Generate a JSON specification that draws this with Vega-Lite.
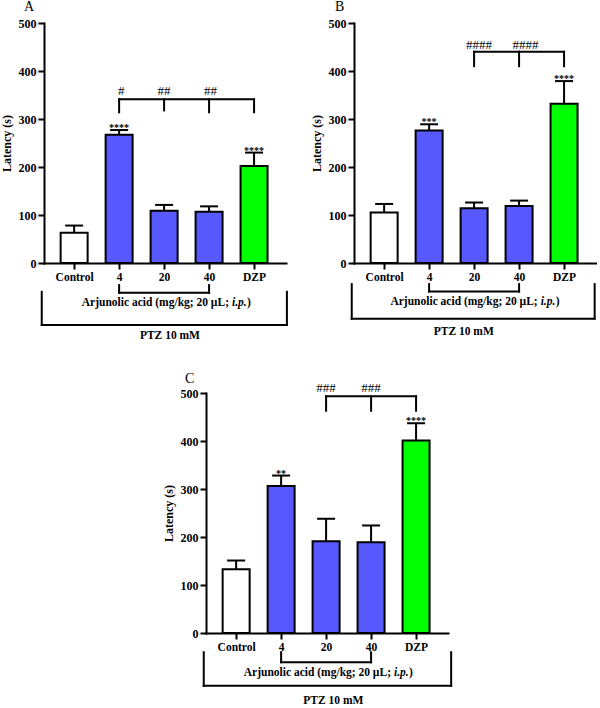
{
  "$schema": "https://vega.github.io/schema/vega-lite/v6.json",
  "padding": {"left": 0, "top": 0, "right": 0, "bottom": 0},
  "background": "white",
  "datasets": {
    "bars": [
      {"panel": "A", "dose": "Control", "pos": 1, "group": "Control", "latency": 63, "upper": 78, "sig": ""},
      {"panel": "A", "dose": "4", "pos": 2, "group": "Arjunolic acid", "latency": 267, "upper": 277, "sig": "****"},
      {"panel": "A", "dose": "20", "pos": 3, "group": "Arjunolic acid", "latency": 109, "upper": 121, "sig": ""},
      {"panel": "A", "dose": "40", "pos": 4, "group": "Arjunolic acid", "latency": 107, "upper": 118, "sig": ""},
      {"panel": "A", "dose": "DZP", "pos": 5, "group": "DZP", "latency": 202, "upper": 230, "sig": "****"},
      {"panel": "B", "dose": "Control", "pos": 1, "group": "Control", "latency": 105, "upper": 123, "sig": ""},
      {"panel": "B", "dose": "4", "pos": 2, "group": "Arjunolic acid", "latency": 276, "upper": 289, "sig": "***"},
      {"panel": "B", "dose": "20", "pos": 3, "group": "Arjunolic acid", "latency": 114, "upper": 126, "sig": ""},
      {"panel": "B", "dose": "40", "pos": 4, "group": "Arjunolic acid", "latency": 119, "upper": 130, "sig": ""},
      {"panel": "B", "dose": "DZP", "pos": 5, "group": "DZP", "latency": 332, "upper": 379, "sig": "****"},
      {"panel": "C", "dose": "Control", "pos": 1, "group": "Control", "latency": 133, "upper": 151, "sig": ""},
      {"panel": "C", "dose": "4", "pos": 2, "group": "Arjunolic acid", "latency": 306, "upper": 328, "sig": "**"},
      {"panel": "C", "dose": "20", "pos": 3, "group": "Arjunolic acid", "latency": 191, "upper": 238, "sig": ""},
      {"panel": "C", "dose": "40", "pos": 4, "group": "Arjunolic acid", "latency": 189, "upper": 224, "sig": ""},
      {"panel": "C", "dose": "DZP", "pos": 5, "group": "DZP", "latency": 401, "upper": 437, "sig": "****"}
    ],
    "brackets": [
      {"panel": "A", "x": 2, "x2": 5, "y": 341, "y2": 341},
      {"panel": "A", "x": 2, "x2": 2, "y": 314, "y2": 341},
      {"panel": "A", "x": 3, "x2": 3, "y": 318, "y2": 341},
      {"panel": "A", "x": 4, "x2": 4, "y": 314, "y2": 341},
      {"panel": "A", "x": 5, "x2": 5, "y": 314, "y2": 341},
      {"panel": "A", "x": 2, "x2": 4, "y": -62, "y2": -62},
      {"panel": "A", "x": 2, "x2": 2, "y": -46, "y2": -62},
      {"panel": "A", "x": 4, "x2": 4, "y": -46, "y2": -62},
      {"panel": "A", "x": 0.28, "x2": 5.73, "y": -129, "y2": -129},
      {"panel": "A", "x": 0.28, "x2": 0.28, "y": -60, "y2": -129},
      {"panel": "A", "x": 5.73, "x2": 5.73, "y": -60, "y2": -129},
      {"panel": "B", "x": 3, "x2": 5, "y": 440, "y2": 440},
      {"panel": "B", "x": 3, "x2": 3, "y": 410, "y2": 440},
      {"panel": "B", "x": 4, "x2": 4, "y": 410, "y2": 440},
      {"panel": "B", "x": 5, "x2": 5, "y": 410, "y2": 440},
      {"panel": "B", "x": 2, "x2": 4, "y": -59.5, "y2": -59.5},
      {"panel": "B", "x": 2, "x2": 2, "y": -44, "y2": -59.5},
      {"panel": "B", "x": 4, "x2": 4, "y": -44, "y2": -59.5},
      {"panel": "B", "x": 0.28, "x2": 5.68, "y": -116, "y2": -116},
      {"panel": "B", "x": 0.28, "x2": 0.28, "y": -44, "y2": -116},
      {"panel": "B", "x": 5.68, "x2": 5.68, "y": -44, "y2": -116},
      {"panel": "C", "x": 3, "x2": 5, "y": 493, "y2": 493},
      {"panel": "C", "x": 3, "x2": 3, "y": 463, "y2": 493},
      {"panel": "C", "x": 4, "x2": 4, "y": 463, "y2": 493},
      {"panel": "C", "x": 5, "x2": 5, "y": 463, "y2": 493},
      {"panel": "C", "x": 2, "x2": 4, "y": -61, "y2": -61},
      {"panel": "C", "x": 2, "x2": 2, "y": -40, "y2": -61},
      {"panel": "C", "x": 4, "x2": 4, "y": -40, "y2": -61},
      {"panel": "C", "x": 0.28, "x2": 5.78, "y": -110, "y2": -110},
      {"panel": "C", "x": 0.28, "x2": 0.28, "y": -40, "y2": -110},
      {"panel": "C", "x": 5.78, "x2": 5.78, "y": -40, "y2": -110}
    ],
    "hashes": [
      {"panel": "A", "x": 2.05, "y": 358, "label": "#"},
      {"panel": "A", "x": 3, "y": 358, "label": "##"},
      {"panel": "A", "x": 4.03, "y": 358, "label": "##"},
      {"panel": "B", "x": 3.11, "y": 455, "label": "####"},
      {"panel": "B", "x": 4.14, "y": 455, "label": "####"},
      {"panel": "C", "x": 3.0, "y": 510, "label": "###"},
      {"panel": "C", "x": 4.0, "y": 510, "label": "###"}
    ],
    "notes": [
      {"panel": "A", "kind": "agent", "x": 3.02, "y": -83, "t1": "Arjunolic acid  (mg/kg; 20 µL;", "t2": "i.p.", "t3": ")"},
      {"panel": "A", "kind": "ptz", "x": 3.13, "y": -153, "t1": "PTZ 10 mM"},
      {"panel": "B", "kind": "agent", "x": 2.99, "y": -82, "t1": "Arjunolic acid  (mg/kg; 20 µL;", "t2": "i.p.", "t3": ")"},
      {"panel": "B", "kind": "ptz", "x": 2.77, "y": -144, "t1": "PTZ 10 mM"},
      {"panel": "C", "kind": "agent", "x": 3.02, "y": -83, "t1": "Arjunolic acid  (mg/kg; 20 µL;", "t2": "i.p.", "t3": ")"},
      {"panel": "C", "kind": "ptz", "x": 3.16, "y": -141, "t1": "PTZ 10 mM"}
    ],
    "empty": []
  },
  "vconcat": [
    {
      "hconcat": [
        {
          "width": 242, "height": 240,
          "title": {"text": "A", "anchor": "start", "frame": "group", "dx": -20, "offset": 3, "font": "Liberation Serif", "fontSize": 14, "fontWeight": "normal", "color": "black"},
          "layer": [
            {"data": {"name": "bars"}, "transform": [{"filter": "datum.panel === 'A'"}],
             "mark": {"type": "rule", "color": "black", "strokeWidth": 2},
             "encoding": {
               "x": {"field": "pos", "type": "quantitative", "scale": {"domain": [0.33, 5.71], "nice": false, "zero": false, "padding": 0}, "axis": {"values": [1, 2, 3, 4, 5], "labelExpr": "['', 'Control', '4', '20', '40', 'DZP'][datum.value]", "title": null}},
               "y": {"field": "latency", "type": "quantitative", "scale": {"domain": [0, 500], "nice": false}, "axis": {"values": [0, 100, 200, 300, 400, 500], "title": "Latency (s)"}},
               "y2": {"field": "upper"}}},
            {"data": {"name": "bars"}, "transform": [{"filter": "datum.panel === 'A'"}],
             "mark": {"type": "bar", "orient": "vertical", "width": 27, "stroke": "black", "strokeWidth": 2},
             "encoding": {
               "x": {"field": "pos", "type": "quantitative"},
               "y": {"field": "latency", "type": "quantitative"},
               "fill": {"field": "group", "type": "nominal", "scale": {"domain": ["Control", "Arjunolic acid", "DZP"], "range": ["#ffffff", "#5858ff", "#00ff00"]}, "legend": null}}},
            {"data": {"name": "bars"}, "transform": [{"filter": "datum.panel === 'A'"}],
             "mark": {"type": "tick", "orient": "horizontal", "size": 18, "thickness": 2, "color": "black", "opacity": 1},
             "encoding": {"x": {"field": "pos", "type": "quantitative"}, "y": {"field": "upper", "type": "quantitative"}}},
            {"data": {"name": "bars"}, "transform": [{"filter": "datum.panel === 'A'"}],
             "mark": {"type": "text", "font": "Liberation Serif", "fontSize": 10, "fontWeight": "bold", "baseline": "alphabetic", "dy": 1, "color": "black"},
             "encoding": {"x": {"field": "pos", "type": "quantitative"}, "y": {"field": "upper", "type": "quantitative"}, "text": {"field": "sig"}}},
            {"data": {"name": "brackets"}, "transform": [{"filter": "datum.panel === 'A'"}],
             "mark": {"type": "rule", "color": "black", "strokeWidth": 2, "strokeCap": "square"},
             "encoding": {"x": {"field": "x", "type": "quantitative"}, "x2": {"field": "x2"}, "y": {"field": "y", "type": "quantitative"}, "y2": {"field": "y2"}}},
            {"data": {"name": "hashes"}, "transform": [{"filter": "datum.panel === 'A'"}],
             "mark": {"type": "text", "font": "Liberation Serif", "fontSize": 13, "baseline": "middle", "color": "black"},
             "encoding": {"x": {"field": "x", "type": "quantitative"}, "y": {"field": "y", "type": "quantitative"}, "text": {"field": "label"}}},
            {"data": {"name": "notes"}, "transform": [{"filter": "datum.panel === 'A' && datum.kind === 'agent'"}],
             "mark": {"type": "text", "font": "Liberation Serif", "fontSize": 11.5, "fontWeight": "bold", "baseline": "middle", "align": "right", "dx": 64, "color": "black"},
             "encoding": {"x": {"field": "x", "type": "quantitative"}, "y": {"field": "y", "type": "quantitative"}, "text": {"field": "t1"}}},
            {"data": {"name": "notes"}, "transform": [{"filter": "datum.panel === 'A' && datum.kind === 'agent'"}],
             "mark": {"type": "text", "font": "Liberation Serif", "fontSize": 11.5, "fontWeight": "bold", "fontStyle": "italic", "baseline": "middle", "align": "left", "dx": 67, "color": "black"},
             "encoding": {"x": {"field": "x", "type": "quantitative"}, "y": {"field": "y", "type": "quantitative"}, "text": {"field": "t2"}}},
            {"data": {"name": "notes"}, "transform": [{"filter": "datum.panel === 'A' && datum.kind === 'agent'"}],
             "mark": {"type": "text", "font": "Liberation Serif", "fontSize": 11.5, "fontWeight": "bold", "baseline": "middle", "align": "left", "dx": 82, "color": "black"},
             "encoding": {"x": {"field": "x", "type": "quantitative"}, "y": {"field": "y", "type": "quantitative"}, "text": {"field": "t3"}}},
            {"data": {"name": "notes"}, "transform": [{"filter": "datum.panel === 'A' && datum.kind === 'ptz'"}],
             "mark": {"type": "text", "font": "Liberation Serif", "fontSize": 11.5, "fontWeight": "bold", "baseline": "middle", "align": "center", "color": "black"},
             "encoding": {"x": {"field": "x", "type": "quantitative"}, "y": {"field": "y", "type": "quantitative"}, "text": {"field": "t1"}}}
          ]
        },
        {
          "width": 242, "height": 240,
          "title": {"text": "B", "anchor": "start", "frame": "group", "dx": -19, "offset": 3, "font": "Liberation Serif", "fontSize": 14, "fontWeight": "normal", "color": "black"},
          "layer": [
            {"data": {"name": "bars"}, "transform": [{"filter": "datum.panel === 'B'"}],
             "mark": {"type": "rule", "color": "black", "strokeWidth": 2},
             "encoding": {
               "x": {"field": "pos", "type": "quantitative", "scale": {"domain": [0.33, 5.71], "nice": false, "zero": false, "padding": 0}, "axis": {"values": [1, 2, 3, 4, 5], "labelExpr": "['', 'Control', '4', '20', '40', 'DZP'][datum.value]", "title": null}},
               "y": {"field": "latency", "type": "quantitative", "scale": {"domain": [0, 500], "nice": false}, "axis": {"values": [0, 100, 200, 300, 400, 500], "title": "Latency (s)"}},
               "y2": {"field": "upper"}}},
            {"data": {"name": "bars"}, "transform": [{"filter": "datum.panel === 'B'"}],
             "mark": {"type": "bar", "orient": "vertical", "width": 27, "stroke": "black", "strokeWidth": 2},
             "encoding": {
               "x": {"field": "pos", "type": "quantitative"},
               "y": {"field": "latency", "type": "quantitative"},
               "fill": {"field": "group", "type": "nominal", "scale": {"domain": ["Control", "Arjunolic acid", "DZP"], "range": ["#ffffff", "#5858ff", "#00ff00"]}, "legend": null}}},
            {"data": {"name": "bars"}, "transform": [{"filter": "datum.panel === 'B'"}],
             "mark": {"type": "tick", "orient": "horizontal", "size": 18, "thickness": 2, "color": "black", "opacity": 1},
             "encoding": {"x": {"field": "pos", "type": "quantitative"}, "y": {"field": "upper", "type": "quantitative"}}},
            {"data": {"name": "bars"}, "transform": [{"filter": "datum.panel === 'B'"}],
             "mark": {"type": "text", "font": "Liberation Serif", "fontSize": 10, "fontWeight": "bold", "baseline": "alphabetic", "dy": 1, "color": "black"},
             "encoding": {"x": {"field": "pos", "type": "quantitative"}, "y": {"field": "upper", "type": "quantitative"}, "text": {"field": "sig"}}},
            {"data": {"name": "brackets"}, "transform": [{"filter": "datum.panel === 'B'"}],
             "mark": {"type": "rule", "color": "black", "strokeWidth": 2, "strokeCap": "square"},
             "encoding": {"x": {"field": "x", "type": "quantitative"}, "x2": {"field": "x2"}, "y": {"field": "y", "type": "quantitative"}, "y2": {"field": "y2"}}},
            {"data": {"name": "hashes"}, "transform": [{"filter": "datum.panel === 'B'"}],
             "mark": {"type": "text", "font": "Liberation Serif", "fontSize": 13, "baseline": "middle", "color": "black"},
             "encoding": {"x": {"field": "x", "type": "quantitative"}, "y": {"field": "y", "type": "quantitative"}, "text": {"field": "label"}}},
            {"data": {"name": "notes"}, "transform": [{"filter": "datum.panel === 'B' && datum.kind === 'agent'"}],
             "mark": {"type": "text", "font": "Liberation Serif", "fontSize": 11.5, "fontWeight": "bold", "baseline": "middle", "align": "right", "dx": 64, "color": "black"},
             "encoding": {"x": {"field": "x", "type": "quantitative"}, "y": {"field": "y", "type": "quantitative"}, "text": {"field": "t1"}}},
            {"data": {"name": "notes"}, "transform": [{"filter": "datum.panel === 'B' && datum.kind === 'agent'"}],
             "mark": {"type": "text", "font": "Liberation Serif", "fontSize": 11.5, "fontWeight": "bold", "fontStyle": "italic", "baseline": "middle", "align": "left", "dx": 67, "color": "black"},
             "encoding": {"x": {"field": "x", "type": "quantitative"}, "y": {"field": "y", "type": "quantitative"}, "text": {"field": "t2"}}},
            {"data": {"name": "notes"}, "transform": [{"filter": "datum.panel === 'B' && datum.kind === 'agent'"}],
             "mark": {"type": "text", "font": "Liberation Serif", "fontSize": 11.5, "fontWeight": "bold", "baseline": "middle", "align": "left", "dx": 82, "color": "black"},
             "encoding": {"x": {"field": "x", "type": "quantitative"}, "y": {"field": "y", "type": "quantitative"}, "text": {"field": "t3"}}},
            {"data": {"name": "notes"}, "transform": [{"filter": "datum.panel === 'B' && datum.kind === 'ptz'"}],
             "mark": {"type": "text", "font": "Liberation Serif", "fontSize": 11.5, "fontWeight": "bold", "baseline": "middle", "align": "center", "color": "black"},
             "encoding": {"x": {"field": "x", "type": "quantitative"}, "y": {"field": "y", "type": "quantitative"}, "text": {"field": "t1"}}}
          ]
        }
      ],
      "spacing": 21
    },
    {
      "hconcat": [
        {"width": 118, "height": 240, "data": {"name": "empty"}, "mark": {"type": "point", "opacity": 0}, "encoding": {}},
        {
          "width": 242, "height": 240,
          "title": {"text": "C", "anchor": "start", "frame": "group", "dx": -21, "offset": -4, "font": "Liberation Serif", "fontSize": 14, "fontWeight": "normal", "color": "black"},
          "layer": [
            {"data": {"name": "bars"}, "transform": [{"filter": "datum.panel === 'C'"}],
             "mark": {"type": "rule", "color": "black", "strokeWidth": 2},
             "encoding": {
               "x": {"field": "pos", "type": "quantitative", "scale": {"domain": [0.33, 5.71], "nice": false, "zero": false, "padding": 0}, "axis": {"values": [1, 2, 3, 4, 5], "labelExpr": "['', 'Control', '4', '20', '40', 'DZP'][datum.value]", "title": null}},
               "y": {"field": "latency", "type": "quantitative", "scale": {"domain": [0, 500], "nice": false}, "axis": {"values": [0, 100, 200, 300, 400, 500], "title": "Latency (s)"}},
               "y2": {"field": "upper"}}},
            {"data": {"name": "bars"}, "transform": [{"filter": "datum.panel === 'C'"}],
             "mark": {"type": "bar", "orient": "vertical", "width": 27, "stroke": "black", "strokeWidth": 2},
             "encoding": {
               "x": {"field": "pos", "type": "quantitative"},
               "y": {"field": "latency", "type": "quantitative"},
               "fill": {"field": "group", "type": "nominal", "scale": {"domain": ["Control", "Arjunolic acid", "DZP"], "range": ["#ffffff", "#5858ff", "#00ff00"]}, "legend": null}}},
            {"data": {"name": "bars"}, "transform": [{"filter": "datum.panel === 'C'"}],
             "mark": {"type": "tick", "orient": "horizontal", "size": 18, "thickness": 2, "color": "black", "opacity": 1},
             "encoding": {"x": {"field": "pos", "type": "quantitative"}, "y": {"field": "upper", "type": "quantitative"}}},
            {"data": {"name": "bars"}, "transform": [{"filter": "datum.panel === 'C'"}],
             "mark": {"type": "text", "font": "Liberation Serif", "fontSize": 10, "fontWeight": "bold", "baseline": "alphabetic", "dy": 1, "color": "black"},
             "encoding": {"x": {"field": "pos", "type": "quantitative"}, "y": {"field": "upper", "type": "quantitative"}, "text": {"field": "sig"}}},
            {"data": {"name": "brackets"}, "transform": [{"filter": "datum.panel === 'C'"}],
             "mark": {"type": "rule", "color": "black", "strokeWidth": 2, "strokeCap": "square"},
             "encoding": {"x": {"field": "x", "type": "quantitative"}, "x2": {"field": "x2"}, "y": {"field": "y", "type": "quantitative"}, "y2": {"field": "y2"}}},
            {"data": {"name": "hashes"}, "transform": [{"filter": "datum.panel === 'C'"}],
             "mark": {"type": "text", "font": "Liberation Serif", "fontSize": 13, "baseline": "middle", "color": "black"},
             "encoding": {"x": {"field": "x", "type": "quantitative"}, "y": {"field": "y", "type": "quantitative"}, "text": {"field": "label"}}},
            {"data": {"name": "notes"}, "transform": [{"filter": "datum.panel === 'C' && datum.kind === 'agent'"}],
             "mark": {"type": "text", "font": "Liberation Serif", "fontSize": 11.5, "fontWeight": "bold", "baseline": "middle", "align": "right", "dx": 64, "color": "black"},
             "encoding": {"x": {"field": "x", "type": "quantitative"}, "y": {"field": "y", "type": "quantitative"}, "text": {"field": "t1"}}},
            {"data": {"name": "notes"}, "transform": [{"filter": "datum.panel === 'C' && datum.kind === 'agent'"}],
             "mark": {"type": "text", "font": "Liberation Serif", "fontSize": 11.5, "fontWeight": "bold", "fontStyle": "italic", "baseline": "middle", "align": "left", "dx": 67, "color": "black"},
             "encoding": {"x": {"field": "x", "type": "quantitative"}, "y": {"field": "y", "type": "quantitative"}, "text": {"field": "t2"}}},
            {"data": {"name": "notes"}, "transform": [{"filter": "datum.panel === 'C' && datum.kind === 'agent'"}],
             "mark": {"type": "text", "font": "Liberation Serif", "fontSize": 11.5, "fontWeight": "bold", "baseline": "middle", "align": "left", "dx": 82, "color": "black"},
             "encoding": {"x": {"field": "x", "type": "quantitative"}, "y": {"field": "y", "type": "quantitative"}, "text": {"field": "t3"}}},
            {"data": {"name": "notes"}, "transform": [{"filter": "datum.panel === 'C' && datum.kind === 'ptz'"}],
             "mark": {"type": "text", "font": "Liberation Serif", "fontSize": 11.5, "fontWeight": "bold", "baseline": "middle", "align": "center", "color": "black"},
             "encoding": {"x": {"field": "x", "type": "quantitative"}, "y": {"field": "y", "type": "quantitative"}, "text": {"field": "t1"}}}
          ]
        }
      ],
      "spacing": 0
    }
  ],
  "spacing": 30,
  "config": {
    "view": {"stroke": null},
    "axis": {"domainColor": "black", "domainWidth": 2, "domainCap": "square", "tickColor": "black", "tickWidth": 2, "tickSize": 6, "grid": false, "labelFont": "Liberation Serif", "labelFontWeight": "bold", "labelFontSize": 11.5, "labelColor": "black", "labelPadding": 2, "labelOverlap": false, "titleFont": "Liberation Serif", "titleFontWeight": "bold", "titleFontSize": 12, "titleColor": "black", "titlePadding": 4.5},
    "axisY": {"labelFontSize": 12}
  }
}
